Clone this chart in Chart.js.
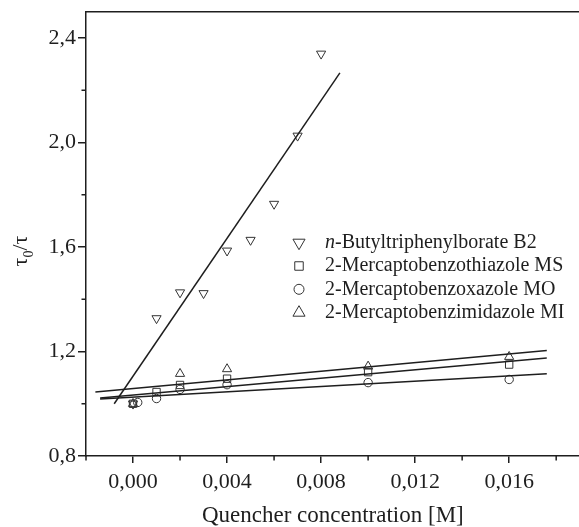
<!DOCTYPE html>
<html lang="en">
<head>
    <meta charset="UTF-8">
    <title>Quenching plot</title>
    <script src="https://cdn.jsdelivr.net/npm/chart.js"></script>
    <style>
        body {
            margin: 0;
            background: white;
            overflow: hidden;
        }
        #wrap {
            width: 586px;
            height: 527px;
        }
    </style>
</head>
<body>
    <div id="wrap">
        <canvas id="quenchChart" width="586" height="527"></canvas>
    </div>
    <script>
        // series names (legend)
        const seriesLabels = [
            'n-Butyltriphenylborate B2',
            '2-Mercaptobenzothiazole MS',
            '2-Mercaptobenzoxazole MO',
            '2-Mercaptobenzimidazole MI'
        ];

        const xB2 = [0, 0.001, 0.002, 0.003, 0.004, 0.005, 0.006, 0.007, 0.008];
        const yB2 = [1.00, 1.327, 1.426, 1.423, 1.586, 1.627, 1.765, 2.026, 2.34];

        const xMS = [0, 0.001, 0.002, 0.004, 0.010, 0.016];
        const yMS = [1.00, 1.045, 1.072, 1.096, 1.121, 1.150];

        const xMO = [0.0002, 0.001, 0.002, 0.004, 0.010, 0.016];
        const yMO = [1.005, 1.020, 1.055, 1.073, 1.081, 1.093];

        const xMI = [0, 0.002, 0.004, 0.010, 0.016];
        const yMI = [1.00, 1.115, 1.133, 1.143, 1.180];

        // fitted straight lines (end points as drawn)
        const fitXB2 = [-0.0008, 0.0088];
        const fitYB2 = [1.000, 2.267];
        const fitXMS = [-0.0014, 0.0176];
        const fitYMS = [1.022, 1.175];
        const fitXMO = [-0.0014, 0.0176];
        const fitYMO = [1.018, 1.115];
        const fitXMI = [-0.0016, 0.0176];
        const fitYMI = [1.045, 1.204];

        // minor (unlabelled) tick positions
        const xMinorTicks = [-0.002, 0.002, 0.006, 0.010, 0.014, 0.018];
        const yMinorTicks = [1.0, 1.4, 1.8, 2.2];

        const ink = '#1e1e1e';
        const serif = "'Liberation Serif', 'Times New Roman', serif";

        function pts(xs, ys) {
            return xs.map((x, i) => ({ x: x, y: ys[i] }));
        }

        const markerStyles = [
            { pointStyle: 'triangle', rotation: 180, radius: 5.3 },
            { pointStyle: 'rect', rotation: 0, radius: 5.2 },
            { pointStyle: 'circle', rotation: 0, radius: 4.2 },
            { pointStyle: 'triangle', rotation: 0, radius: 5.3 }
        ];

        const markerData = [pts(xB2, yB2), pts(xMS, yMS), pts(xMO, yMO), pts(xMI, yMI)];
        const fitData = [pts(fitXB2, fitYB2), pts(fitXMS, fitYMS), pts(fitXMO, fitYMO), pts(fitXMI, fitYMI)];

        const datasets = [];
        fitData.forEach((d, i) => {
            datasets.push({
                label: seriesLabels[i] + ' fit',
                data: d,
                showLine: true,
                borderColor: ink,
                borderWidth: 1.5,
                pointRadius: 0,
                fill: false
            });
        });
        markerData.forEach((d, i) => {
            datasets.push({
                label: seriesLabels[i],
                data: d,
                showLine: false,
                pointStyle: markerStyles[i].pointStyle,
                pointRotation: markerStyles[i].rotation,
                pointRadius: markerStyles[i].radius,
                pointBorderWidth: 1,
                pointBorderColor: '#333',
                pointBackgroundColor: 'rgba(0,0,0,0)'
            });
        });

        // legend, minor ticks and the y title
        const extras = {
            id: 'extras',
            afterDraw(chart) {
                const ctx = chart.ctx;
                const area = chart.chartArea;
                const xs = chart.scales.x;
                const ys = chart.scales.y;

                ctx.save();
                ctx.strokeStyle = ink;
                ctx.lineWidth = 1.5;
                ctx.beginPath();
                xMinorTicks.forEach(v => {
                    const p = xs.getPixelForValue(v);
                    ctx.moveTo(p, area.bottom);
                    ctx.lineTo(p, area.bottom + 4.5);
                });
                yMinorTicks.forEach(v => {
                    const p = ys.getPixelForValue(v);
                    ctx.moveTo(area.left, p);
                    ctx.lineTo(area.left - 4.5, p);
                });
                ctx.stroke();
                ctx.restore();

                // y axis title: tau0 / tau
                ctx.save();
                ctx.translate(22, 251);
                ctx.rotate(-Math.PI / 2);
                ctx.fillStyle = ink;
                ctx.textBaseline = 'alphabetic';
                const big = '22px ' + serif;
                const small = '14px ' + serif;
                ctx.font = big;
                const w1 = ctx.measureText('\u03c4').width;
                const w3 = ctx.measureText('/\u03c4').width;
                ctx.font = small;
                const w2 = ctx.measureText('0').width;
                let cx = -(w1 + w2 + w3) / 2;
                ctx.font = big;
                ctx.fillText('\u03c4', cx, 5);
                cx += w1;
                ctx.font = small;
                ctx.fillText('0', cx, 11);
                cx += w2;
                ctx.font = big;
                ctx.fillText('/\u03c4', cx, 5);
                ctx.restore();

                // legend
                const rowsY = [242.7, 266, 289.3, 312.7];
                const legendSizes = [7, 6, 5, 7];
                ctx.save();
                ctx.strokeStyle = '#333';
                ctx.lineWidth = 1;
                seriesLabels.forEach((lab, i) => {
                    const opts = {
                        pointStyle: markerStyles[i].pointStyle,
                        rotation: markerStyles[i].rotation,
                        radius: legendSizes[i],
                        borderWidth: 1
                    };
                    ctx.fillStyle = 'rgba(0,0,0,0)';
                    Chart.helpers.drawPoint(ctx, opts, 299, rowsY[i]);
                    ctx.fillStyle = ink;
                    ctx.textBaseline = 'middle';
                    let tx = 325;
                    let rest = lab;
                    if (lab.startsWith('n-')) {
                        ctx.font = 'italic 20px ' + serif;
                        ctx.fillText('n', tx, rowsY[i]);
                        tx += ctx.measureText('n').width;
                        rest = lab.slice(1);
                    }
                    ctx.font = '20px ' + serif;
                    ctx.fillText(rest, tx, rowsY[i]);
                });
                ctx.restore();
            }
        };

        const ctx = document.getElementById('quenchChart').getContext('2d');
        const chart = new Chart(ctx, {
            type: 'scatter',
            data: { datasets: datasets },
            plugins: [extras],
            options: {
                responsive: false,
                animation: false,
                layout: { padding: { top: 12, right: 0, left: 0, bottom: 0 } },
                plugins: {
                    legend: { display: false },
                    tooltip: { enabled: false }
                },
                scales: {
                    x: {
                        type: 'linear',
                        position: 'bottom',
                        min: -0.002,
                        max: 0.019,
                        afterFit: s => {
                            s.height = 71;
                            s.paddingLeft = 0;
                            s.paddingRight = 0;
                        },
                        ticks: {
                            stepSize: 0.004,
                            includeBounds: false,
                            autoSkip: false,
                            maxRotation: 0,
                            padding: 6,
                            color: ink,
                            font: { family: serif, size: 22 },
                            callback: v => v.toFixed(3).replace('.', ',')
                        },
                        grid: {
                            drawOnChartArea: false,
                            tickLength: 7,
                            color: ink,
                            lineWidth: 1.5
                        },
                        border: { color: ink, width: 1.5 },
                        title: {
                            display: true,
                            text: 'Quencher concentration [M]',
                            color: ink,
                            padding: { top: 0, bottom: -3 },
                            font: { family: serif, size: 23 }
                        }
                    },
                    x2: {
                        type: 'linear',
                        position: 'top',
                        min: -0.002,
                        max: 0.019,
                        afterFit: s => {
                            s.height = 0;
                            s.paddingLeft = 0;
                            s.paddingRight = 0;
                        },
                        ticks: { display: false },
                        grid: { display: false },
                        border: { display: true, color: ink, width: 1.5 }
                    },
                    y: {
                        type: 'linear',
                        min: 0.8,
                        max: 2.5,
                        afterFit: s => {
                            s.width = 86;
                            s.paddingTop = 0;
                            s.paddingBottom = 0;
                        },
                        ticks: {
                            stepSize: 0.4,
                            includeBounds: false,
                            padding: 2,
                            color: ink,
                            font: { family: serif, size: 22 },
                            callback: v => v.toFixed(1).replace('.', ',')
                        },
                        grid: {
                            drawOnChartArea: false,
                            tickLength: 8,
                            color: ink,
                            lineWidth: 1.5
                        },
                        border: { color: ink, width: 1.5 }
                    }
                }
            }
        });
    </script>
</body>
</html>
